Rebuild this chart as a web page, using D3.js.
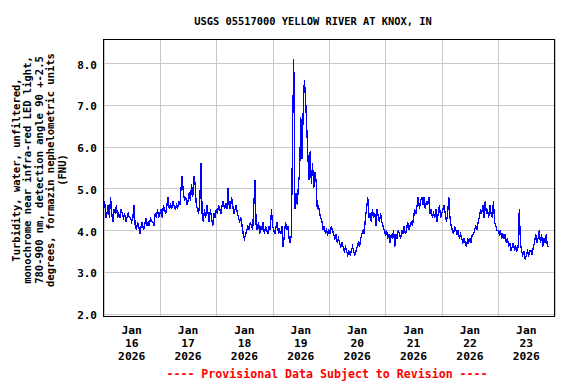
<!DOCTYPE html>
<html>
<head>
<meta charset="utf-8">
<script src="https://cdn.jsdelivr.net/npm/d3@7"></script>
<style>
  body { margin: 0; background: #fff; }
  svg text { font-family: "DejaVu Sans Mono", monospace; font-weight: bold; fill: #000; }
</style>
</head>
<body>
<svg id="chart" width="576" height="384"></svg>
<script>
const SVG_WIDTH = 576;
const SVG_HEIGHT = 384;
const MARGIN = { top: 39, right: 22, bottom: 68, left: 103 };
const WIDTH = SVG_WIDTH - MARGIN.left - MARGIN.right;
const HEIGHT = SVG_HEIGHT - MARGIN.top - MARGIN.bottom;

const TITLE = "USGS 05517000 YELLOW RIVER AT KNOX, IN";
const FOOTER = "---- Provisional Data Subject to Revision ----";
const Y_TITLE = [
    "Turbidity, water, unfiltered,",
    "monochrome near infra-red LED light,",
    "780-900 nm, detection angle 90 +-2.5",
    "degrees, formazin nephelometric units",
    "(FNU)"
];
const Y_TICKS = [2, 3, 4, 5, 6, 7, 8];
const DAY_LABELS = ["16", "17", "18", "19", "20", "21", "22", "23"];

// turbidity, FNU, half-hourly readings starting at midnight of each day
const START = Date.UTC(2026, 0, 16);
const STEP_MIN = 30;
const jan16 = [4.5,4.7,4.3,4.4,4.6,4.3,4.8,4.4,4.2,4.5,4.4,4.6,4.3,
               4.4,4.3,4.5,4.4,4.3,4.4,4.2,4.3,4.4,4.3,4.3,4.2,4.3,
               4.6,4.1,4.0,4.2,4.1,3.9,4.1,4.2,4.0,4.1,4.3,4.1,
               4.2,4.1,4.3,4.2,4.2,4.1,4.4,4.3,4.5,4.3];
const jan17 = [4.4,4.5,4.3,4.6,4.5,4.4,4.6,4.8,4.5,4.6,4.5,4.7,4.6,4.5,4.6,4.5,4.7,4.6,
               5.0,5.3,4.9,
               4.7,4.8,4.6,4.7,4.9,4.7,
               5.1,4.8,5.3,5.1,4.6,
               4.5,4.4,4.7,
               5.6,
               4.4,4.2,4.5,4.3,4.6,4.4,4.2,4.5,4.3,4.1,4.4,4.3];
const jan18 = [4.5,4.4,4.6,4.5,4.4,4.6,4.7,4.5,4.6,4.5,5.0,4.6,4.5,4.8,4.6,4.4,4.5,4.6,
               4.4,4.3,4.2,4.3,4.1,
               3.9,3.8,3.9,4.0,
               4.1,4.0,4.2,4.1,4.0,
               4.6,5.2,
               4.1,4.0,4.2,3.9,4.1,4.0,4.2,3.9,4.1,4.0,3.9,4.1,4.0,4.5];
const jan19 = [4.1,4.0,3.9,4.1,4.2,3.9,4.0,3.9,4.1,3.6,3.9,4.2,4.0,4.1,3.8,3.7,3.9,
               6.4,8.1,
               4.5,4.9,4.6,
               5.1,5.4,
               6.7,5.7,6.8,7.6,7.2,6.5,5.8,5.2,5.9,5.1,5.6,5.0,5.4,5.2,
               4.5,4.6,4.4,4.3,4.2,4.0,4.1,3.9,4.0,3.9];
const jan20 = [4.0,3.9,4.1,4.0,3.9,3.8,3.9,3.7,3.8,3.7,3.6,3.7,
               3.6,3.5,3.6,3.5,3.4,3.5,3.4,3.5,3.6,3.5,3.4,3.5,3.6,3.7,3.6,
               3.8,3.9,4.0,3.9,
               4.3,4.5,4.8,
               4.3,4.4,4.2,4.5,4.3,4.4,4.1,4.5,4.3,4.2,4.4,4.2,4.1,4.0];
const jan21 = [3.9,4.0,3.8,3.9,3.7,3.9,3.8,4.0,3.6,3.9,3.8,4.0,3.9,3.8,4.0,3.9,4.1,3.9,4.0,
               4.2,4.0,4.1,4.2,4.1,
               4.3,4.5,4.4,
               4.6,4.8,4.5,4.7,4.8,4.6,4.8,4.5,4.7,4.6,4.8,
               4.4,4.5,4.3,4.4,
               4.3,4.5,4.2,4.4,4.6,4.3];
const jan22 = [4.4,4.5,4.6,4.4,4.2,4.4,4.8,4.3,4.1,4.0,
               3.9,4.1,4.0,3.9,4.0,3.8,3.9,
               3.8,3.7,3.8,3.7,3.6,3.8,3.7,3.8,3.7,3.9,
               3.9,4.0,4.1,4.0,4.2,4.3,
               4.5,4.4,4.6,4.3,4.7,4.4,4.5,4.3,4.6,4.4,4.3,4.7,
               4.2,4.1,4.0];
const jan23 = [4.0,3.9,4.0,3.8,3.9,3.8,3.9,3.7,
               3.8,3.6,3.7,3.5,3.6,3.7,3.5,3.6,3.5,3.6,
               4.5,
               3.7,3.5,3.4,3.5,3.3,3.4,3.5,3.4,3.5,3.5,3.4,
               3.6,3.7,3.9,3.7,3.8,4.0,
               3.7,3.9,3.6,3.8,3.7,3.9,3.6,3.6];

const values = [].concat(jan16, jan17, jan18, jan19, jan20, jan21, jan22, jan23);
const readings = values.map((v, i) => ({ date: new Date(START + i * STEP_MIN * 60000), value: v }));

const svg = d3.select("#chart");
const g = svg.append("g").attr("transform", `translate(${MARGIN.left},${MARGIN.top})`);

const x = d3.scaleUtc()
    .domain([new Date(START), new Date(Date.UTC(2026, 0, 24))])
    .range([0.5, WIDTH + 0.5]);
const y = d3.scaleLinear()
    .domain([1.943, 8.58])
    .range([HEIGHT, 0]);

// grid
g.append("g")
    .attr("class", "grid-y")
    .call(d3.axisLeft(y).tickValues(Y_TICKS).tickSize(-WIDTH).tickFormat(""))
    .call(s => s.select(".domain").remove())
    .call(s => s.selectAll("line").attr("stroke", "#c8c8c8").attr("shape-rendering", "crispEdges"));

g.append("g")
    .attr("class", "grid-x")
    .attr("transform", `translate(0,${HEIGHT})`)
    .call(d3.axisBottom(x).ticks(d3.utcDay.every(1)).tickSize(-HEIGHT).tickFormat(""))
    .call(s => s.select(".domain").remove())
    .call(s => s.selectAll("line").attr("stroke", "#c8c8c8").attr("shape-rendering", "crispEdges"));

// y tick labels
g.append("g")
    .call(d3.axisLeft(y).tickValues(Y_TICKS).tickSize(0).tickPadding(6).tickFormat(d3.format(".1f")))
    .call(s => s.select(".domain").remove())
    .call(s => s.selectAll("text").attr("font-size", 11).attr("dy", "0.45em"));

// x labels at noon of each day
const noon = DAY_LABELS.map((d, i) => new Date(START + (i + 0.5) * 86400000));
const xl = g.append("g").attr("transform", `translate(0,${HEIGHT})`)
    .selectAll("text")
    .data(noon)
    .enter()
    .append("text")
    .attr("x", d => x(d))
    .attr("y", 18)
    .attr("text-anchor", "middle")
    .attr("font-size", 11.3);
xl.append("tspan").attr("x", d => x(d)).attr("dy", 0).text("Jan");
xl.append("tspan").attr("x", d => x(d)).attr("dy", 13).text((d, i) => DAY_LABELS[i]);
xl.append("tspan").attr("x", d => x(d)).attr("dy", 13).text("2026");

// data line
g.append("path")
    .datum(readings)
    .attr("fill", "none")
    .attr("stroke", "#0000ff")
    .attr("stroke-width", 1.3)
    .attr("shape-rendering", "crispEdges")
    .attr("d", d3.line().x(d => x(d.date)).y(d => y(d.value)));

// frame
g.append("rect")
    .attr("x", 0.5).attr("y", 0.5)
    .attr("width", WIDTH).attr("height", HEIGHT - 0.5)
    .attr("fill", "none")
    .attr("stroke", "#000")
    .attr("shape-rendering", "crispEdges");

// titles
svg.append("text")
    .attr("x", 313).attr("y", 24.5)
    .attr("text-anchor", "middle")
    .attr("font-size", 10.4)
    .text(TITLE);

svg.append("text")
    .attr("x", 327).attr("y", 378)
    .attr("text-anchor", "middle")
    .attr("font-size", 11.6)
    .style("fill", "#ff0000")
    .text(FOOTER);

svg.append("g")
    .selectAll("text")
    .data(Y_TITLE)
    .enter()
    .append("text")
    .attr("transform", (d, i) => `translate(${19.5 + i * 11.6},170) rotate(-90)`)
    .attr("text-anchor", "middle")
    .attr("font-size", 10.5)
    .text(d => d);
</script>
</body>
</html>
